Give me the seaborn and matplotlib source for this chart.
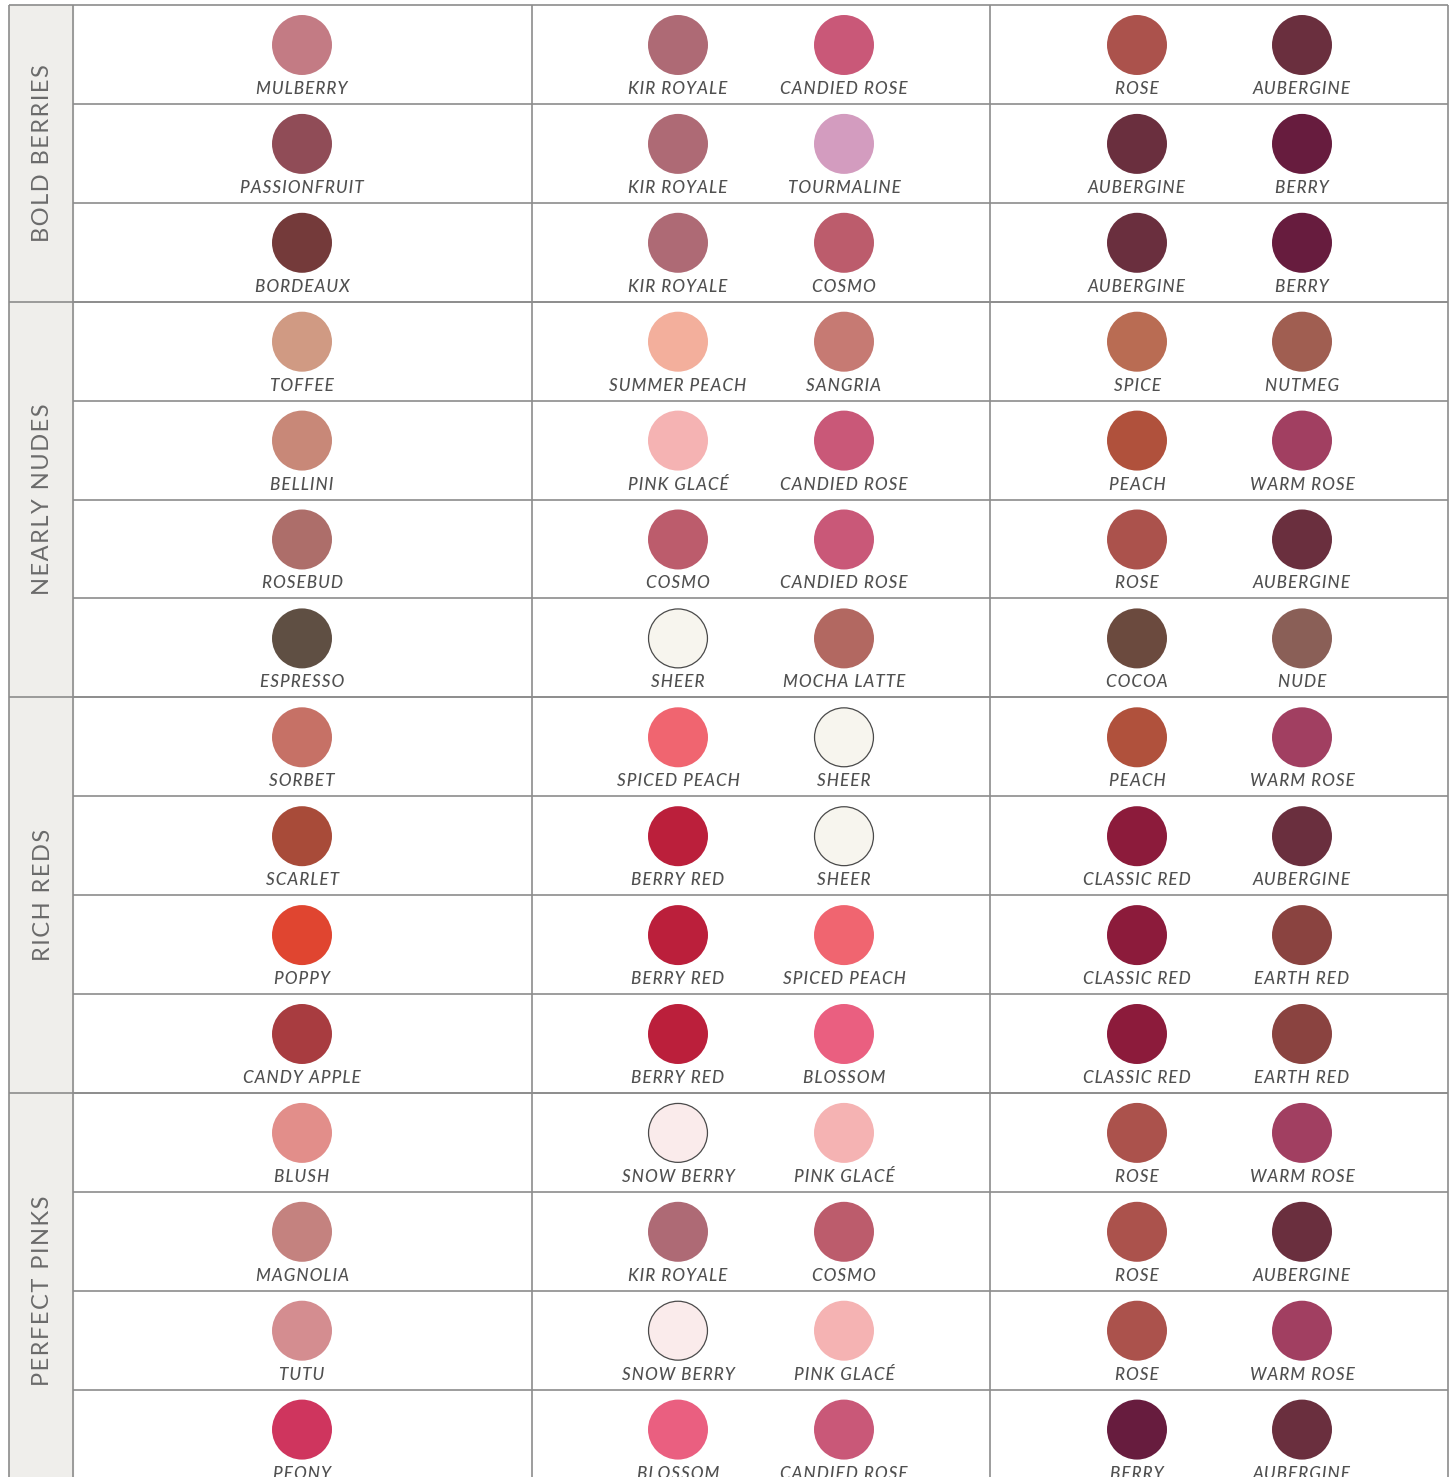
import matplotlib
matplotlib.use("Agg")
import matplotlib.pyplot as plt
import pandas as pd
import seaborn as sns

sns.set_style("white")
plt.rcParams["font.family"] = ["Lato", "DejaVu Sans"]

# ---------------------------------------------------
# Data
# ---------------------------------------------------

groups = ["BOLD BERRIES", "NEARLY NUDES", "RICH REDS", "PERFECT PINKS"]
group_sizes = [3, 4, 4, 4]

col1 = ["MULBERRY", "PASSIONFRUIT", "BORDEAUX",
        "TOFFEE", "BELLINI", "ROSEBUD", "ESPRESSO",
        "SORBET", "SCARLET", "POPPY", "CANDY APPLE",
        "BLUSH", "MAGNOLIA", "TUTU", "PEONY"]

col2_left = ["KIR ROYALE", "KIR ROYALE", "KIR ROYALE",
             "SUMMER PEACH", "PINK GLACÉ", "COSMO", "SHEER",
             "SPICED PEACH", "BERRY RED", "BERRY RED", "BERRY RED",
             "SNOW BERRY", "KIR ROYALE", "SNOW BERRY", "BLOSSOM"]

col2_right = ["CANDIED ROSE", "TOURMALINE", "COSMO",
              "SANGRIA", "CANDIED ROSE", "CANDIED ROSE", "MOCHA LATTE",
              "SHEER", "SHEER", "SPICED PEACH", "BLOSSOM",
              "PINK GLACÉ", "COSMO", "PINK GLACÉ", "CANDIED ROSE"]

col3_left = ["ROSE", "AUBERGINE", "AUBERGINE",
             "SPICE", "PEACH", "ROSE", "COCOA",
             "PEACH", "CLASSIC RED", "CLASSIC RED", "CLASSIC RED",
             "ROSE", "ROSE", "ROSE", "BERRY"]

col3_right = ["AUBERGINE", "BERRY", "BERRY",
              "NUTMEG", "WARM ROSE", "AUBERGINE", "NUDE",
              "WARM ROSE", "AUBERGINE", "EARTH RED", "EARTH RED",
              "WARM ROSE", "AUBERGINE", "WARM ROSE", "AUBERGINE"]

shade_colors = {
    "MULBERRY": "#c37b84", "KIR ROYALE": "#ae6a75", "CANDIED ROSE": "#c95878",
    "ROSE": "#ab524c", "AUBERGINE": "#6a2f3e", "PASSIONFRUIT": "#904c57",
    "TOURMALINE": "#d39cbf", "BERRY": "#671c3e", "BORDEAUX": "#743a3a",
    "COSMO": "#bc5c6c", "TOFFEE": "#d09a83", "SUMMER PEACH": "#f3af9c",
    "SANGRIA": "#c67a73", "SPICE": "#b96c53", "NUTMEG": "#a05e51",
    "BELLINI": "#c88878", "PINK GLACÉ": "#f5b3b3", "PEACH": "#b0513c",
    "WARM ROSE": "#a13f61", "ROSEBUD": "#ad6e6a", "ESPRESSO": "#5f4f43",
    "SHEER": "#f7f5ee", "MOCHA LATTE": "#b26861", "COCOA": "#6b4a3e",
    "NUDE": "#8a5f57", "SORBET": "#c67166", "SPICED PEACH": "#f06570",
    "SCARLET": "#a84b39", "BERRY RED": "#bb1f3b", "CLASSIC RED": "#8c1b3b",
    "POPPY": "#e04530", "EARTH RED": "#8a4340", "CANDY APPLE": "#a83c40",
    "BLOSSOM": "#ea5f80", "BLUSH": "#e28e8a", "SNOW BERRY": "#faebeb",
    "MAGNOLIA": "#c4827f", "TUTU": "#d48d90", "PEONY": "#cf355e",
}

outlined = ["SHEER", "SNOW BERRY"]

# ---------------------------------------------------
# Layout
# ---------------------------------------------------

W, H = 1452, 1477
TOP = 5
ROW_H = 98.9
LEFT, GROUP_R = 9, 73
COL_EDGES = [73, 532, 990, 1448]
SLOT_X = [302, 678, 844, 1137, 1302]
LINE_COLOR = "#8c8c8c"
TEXT_COLOR = "#505050"


def spaced(s):
    # crude letter spacing with hair spaces
    return "\u200a".join(s)


columns = [col1, col2_left, col2_right, col3_left, col3_right]
n_rows = len(col1)

records = []
for r in range(n_rows):
    for slot, names in enumerate(columns):
        records.append({"row": r, "name": names[r],
                        "x": SLOT_X[slot],
                        "y": TOP + r * ROW_H + 40,
                        "label_y": TOP + r * ROW_H + 84})
swatches = pd.DataFrame(records)
plain = swatches[~swatches["name"].isin(outlined)]
ringed = swatches[swatches["name"].isin(outlined)]

# ---------------------------------------------------
# Figure
# ---------------------------------------------------

fig = plt.figure(figsize=(W / 100, H / 100), dpi=100)
ax = fig.add_axes([0, 0, 1, 1])

# group column background
ax.fill_between([LEFT, GROUP_R], TOP, H + 20, color="#efeeeb", zorder=0)

# row lines (inside the table body)
row_lines = [TOP + r * ROW_H for r in range(1, n_rows)]
ax.hlines(row_lines, GROUP_R, COL_EDGES[-1], color=LINE_COLOR, lw=1.2, zorder=1)

# group separators and top border
bounds = [0]
for s in group_sizes:
    bounds.append(bounds[-1] + s)
group_lines = [TOP + b * ROW_H for b in bounds[:-1]]
ax.hlines(group_lines, LEFT, COL_EDGES[-1], color=LINE_COLOR, lw=1.2, zorder=1)

# vertical lines
ax.vlines([LEFT] + COL_EDGES, TOP, H + 20, color=LINE_COLOR, lw=1.2, zorder=1)

# swatches
sns.scatterplot(data=plain, x="x", y="y", hue="name", palette=shade_colors,
                s=1866, linewidth=0, legend=False, ax=ax, zorder=3)
sns.scatterplot(data=ringed, x="x", y="y", hue="name", palette=shade_colors,
                s=1800, edgecolor="#4a4a4a", linewidth=0.9, legend=False,
                ax=ax, zorder=3)
ax.set_xlim(0, W)
ax.set_ylim(H, 0)
ax.axis("off")

# swatch names
for _, rec in swatches.iterrows():
    ax.text(rec["x"], rec["label_y"], spaced(rec["name"]), ha="center",
            va="center", fontsize=12.3, style="italic", fontweight="medium",
            color=TEXT_COLOR, zorder=4)

# group names
for g, name in enumerate(groups):
    y_mid = TOP + (bounds[g] + bounds[g + 1]) / 2 * ROW_H
    ax.text((LEFT + GROUP_R) / 2 + 2, y_mid, spaced(name), rotation=90,
            ha="center", va="center", fontsize=17, fontweight="normal",
            color="#6a6a6a", zorder=4)

fig.savefig("out.png", dpi=100)
plt.close(fig)
